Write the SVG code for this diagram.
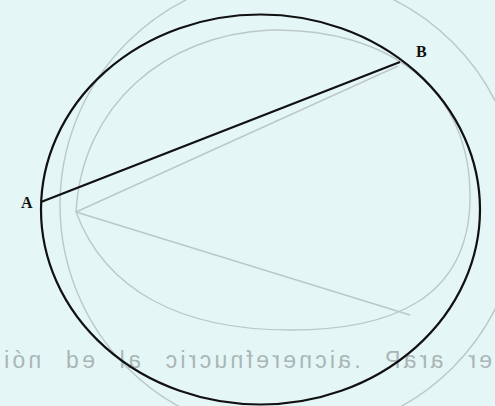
<svg xmlns="http://www.w3.org/2000/svg" width="495" height="406" viewBox="0 0 495 406">
<style>
.ink{fill:none;stroke:#111;stroke-width:2.2}
.ghost{fill:none;stroke:#bcc8c8;stroke-width:1.4}
.lbl{font-family:"Liberation Serif",serif;font-weight:bold;font-size:16px;fill:#111}
.gtxt{font-family:"Liberation Sans",sans-serif;font-size:23px;fill:#aab6b6;word-spacing:12px;letter-spacing:1px}
</style>
<rect width="495" height="406" fill="#e5f6f6"/>
<g id="ghost">
<circle class="ghost" cx="290" cy="205" r="230"/>
<path class="ghost" d="M76,212 C82,105 165,35 270,30 C390,28 472,90 470,200 C468,300 390,330 290,330 C180,330 105,290 76,212"/>
<path class="ghost" d="M76,212 L398,66 M76,212 L410,315"/>
<text class="gtxt" transform="translate(495,0) scale(-1,1)" x="3" y="368" textLength="489" lengthAdjust="spacing">er araP .aicnerefnucric al ed nói</text>
</g>
<g id="circle"><ellipse class="ink" cx="260.5" cy="209.5" rx="219.5" ry="195"/></g>
<g id="connectors"><line class="ink" x1="41" y1="202" x2="400" y2="62"/></g>
<g id="A"><text class="lbl" x="21" y="208">A</text></g>
<g id="B"><text class="lbl" x="416" y="57">B</text></g>
</svg>
